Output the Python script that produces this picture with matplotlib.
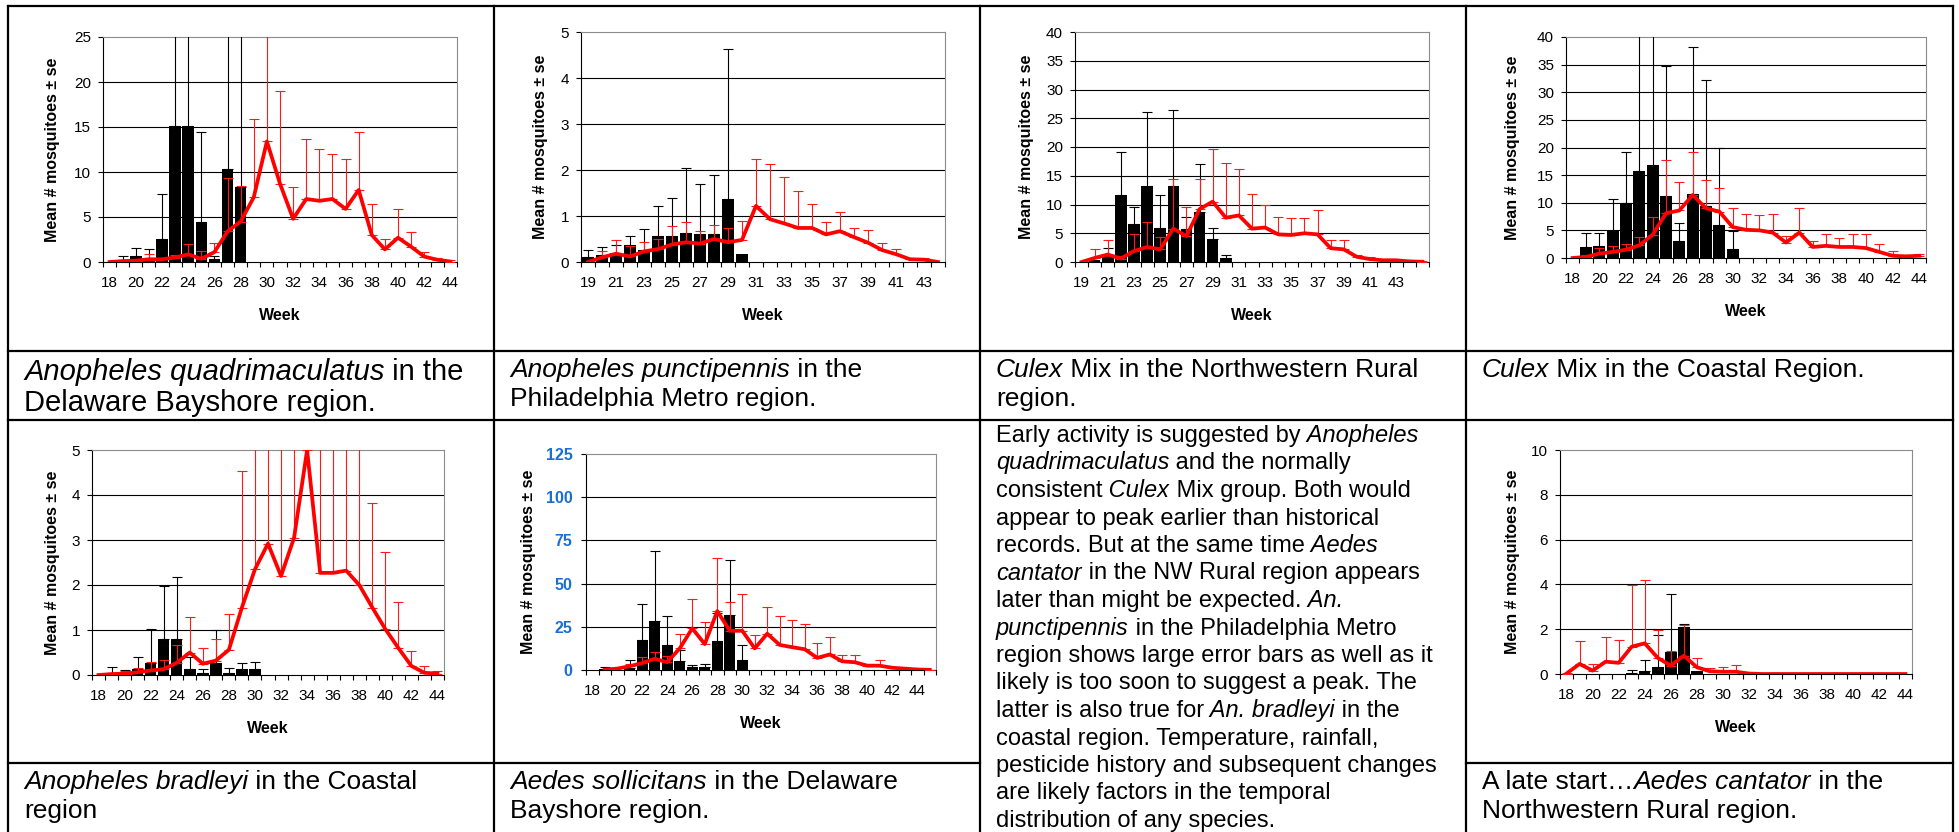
import matplotlib
matplotlib.use('Agg')
import matplotlib.pyplot as plt
import numpy as np
from matplotlib.lines import Line2D

plt.rcParams['font.family'] = ['Liberation Sans', 'DejaVu Sans']

# ---- data (mean and mean+se) ----
# Anopheles quadrimaculatus, Delaware Bayshore
q_weeks = list(range(18, 45))
q_labels = [18, 20, 22, 24, 26, 28, 30, 32, 34, 36, 38, 40, 42, 44]
q_bar = [0, 0.2, 0.7, 0.4, 2.6, 15.1, 15.1, 4.4, 0.3, 10.3, 8.3, 0, 0, 0, 0, 0, 0, 0, 0, 0, 0, 0, 0, 0, 0, 0, 0]
q_bar_hi = [0, 0.7, 1.6, 1.4, 7.6, 30, 30, 14.4, 0.7, 30, 30, 0, 0, 0, 0, 0, 0, 0, 0, 0, 0, 0, 0, 0, 0, 0, 0]
q_avg = [0, 0.1, 0.15, 0.3, 0.3, 0.5, 0.85, 0.35, 1.1, 3.4, 4.5, 7.2, 13.4, 8.7, 4.8, 7.0, 6.8, 7.0, 5.9, 8.0,
         3.0, 1.4, 2.7, 1.7, 0.6, 0.25, 0.05]
q_avg_hi = [0, 0.2, 0.25, 0.9, 0.4, 0.8, 1.95, 1.25, 2.1, 9.3, 8.4, 15.9, 30, 19.0, 8.35, 13.7, 12.6, 12.0, 11.5,
            14.4, 6.5, 2.6, 5.9, 3.35, 1.1, 0.5, 0.2]

# Anopheles punctipennis, Philadelphia Metro
p_weeks = list(range(19, 45))
p_labels = [19, 21, 23, 25, 27, 29, 31, 33, 35, 37, 39, 41, 43]
p_bar = [0.1, 0.15, 0.2, 0.36, 0.27, 0.56, 0.56, 0.62, 0.6, 0.6, 1.37, 0.17, 0, 0, 0, 0, 0, 0, 0, 0, 0, 0, 0, 0, 0, 0]
p_bar_hi = [0.27, 0.32, 0.36, 0.56, 0.71, 1.21, 1.4, 2.05, 1.69, 1.89, 4.62, 0.17, 0, 0, 0, 0, 0, 0, 0, 0, 0, 0, 0,
            0, 0, 0]
p_avg = [0, 0.1, 0.18, 0.12, 0.23, 0.28, 0.38, 0.43, 0.4, 0.5, 0.43, 0.48, 1.22, 0.93, 0.84, 0.74, 0.74, 0.6, 0.67,
         0.54, 0.42, 0.26, 0.17, 0.06, 0.05, 0.0]
p_avg_hi = [0, 0.25, 0.48, 0.35, 0.44, 0.5, 0.78, 0.87, 0.67, 0.8, 0.74, 0.9, 2.24, 2.14, 1.85, 1.54, 1.27, 0.87,
            1.08, 0.74, 0.7, 0.41, 0.29, 0.07, 0.08, 0]

# Culex Mix, Northwestern Rural
cn_weeks = list(range(19, 46))
cn_labels = [19, 21, 23, 25, 27, 29, 31, 33, 35, 37, 39, 41, 43]
cn_bar = [0, 0.3, 1.0, 11.6, 6.6, 13.3, 6.0, 13.3, 5.8, 8.7, 4.0, 0.7, 0, 0, 0, 0, 0, 0, 0, 0, 0, 0, 0, 0, 0, 0, 0]
cn_bar_hi = [0, 0.3, 2.35, 19.2, 9.6, 26.1, 11.7, 26.4, 7.8, 17.1, 6.0, 1.15, 0, 0, 0, 0, 0, 0, 0, 0, 0, 0, 0, 0, 0,
             0, 0]
cn_avg = [0, 0.7, 1.3, 0.6, 1.9, 2.6, 2.2, 5.8, 4.5, 9.2, 10.5, 7.7, 8.1, 5.8, 6.0, 4.8, 4.7, 5.0, 4.8, 2.4, 2.2,
          0.9, 0.5, 0.3, 0.3, 0.1, 0.05]
cn_avg_hi = [0, 2.2, 3.75, 1.1, 4.8, 6.9, 4.3, 14.45, 9.65, 14.45, 19.7, 17.2, 16.2, 11.8, 9.9, 7.75, 7.7, 7.6, 9.1,
             3.75, 3.75, 1.2, 0.8, 0.4, 0.4, 0.2, 0.1]

# Culex Mix, Coastal
cc_weeks = list(range(18, 45))
cc_labels = [18, 20, 22, 24, 26, 28, 30, 32, 34, 36, 38, 40, 42, 44]
cc_bar = [0, 2.0, 2.2, 4.8, 9.9, 15.8, 16.8, 11.2, 3.0, 11.6, 9.4, 6.0, 1.6, 0, 0, 0, 0, 0, 0, 0, 0, 0, 0, 0, 0, 0, 0]
cc_bar_hi = [0, 4.6, 4.6, 10.6, 19.1, 45, 45, 34.8, 6.4, 38.2, 32.2, 20.0, 4.9, 0, 0, 0, 0, 0, 0, 0, 0, 0, 0, 0, 0,
             0, 0]
cc_avg = [0, 0.2, 0.8, 1.1, 1.5, 2.3, 4.2, 8.1, 8.6, 11.4, 9.0, 8.4, 5.6, 5.1, 5.0, 4.6, 2.8, 4.6, 2.0, 2.2, 2.0, 2.0,
          1.8, 1.1, 0.4, 0.3, 0.4]
cc_avg_hi = [0, 0.5, 1.9, 2.2, 2.6, 3.8, 7.4, 17.7, 13.7, 19.2, 14.2, 12.6, 9.0, 7.9, 7.8, 7.9, 3.9, 9.0, 3.0, 4.4,
             3.6, 4.4, 4.4, 2.6, 1.2, 0.6, 0.8]

# Anopheles bradleyi, Coastal
b_weeks = list(range(18, 45))
b_labels = [18, 20, 22, 24, 26, 28, 30, 32, 34, 36, 38, 40, 42, 44]
b_bar = [0, 0.05, 0.05, 0.13, 0.27, 0.81, 0.79, 0.13, 0.05, 0.27, 0.05, 0.13, 0.13, 0, 0, 0, 0, 0, 0, 0, 0, 0, 0, 0,
         0, 0, 0]
b_bar_hi = [0, 0.17, 0.12, 0.39, 1.03, 1.98, 2.17, 0.39, 0.14, 0.99, 0.16, 0.27, 0.3, 0, 0, 0, 0, 0, 0, 0, 0, 0, 0, 0,
            0, 0, 0]
b_avg = [0, 0.02, 0.03, 0.06, 0.1, 0.13, 0.27, 0.5, 0.25, 0.32, 0.56, 1.5, 2.35, 2.92, 2.2, 3.05, 5.0, 2.27, 2.27,
         2.32, 2.0, 1.5, 1.02, 0.6, 0.2, 0.05, 0.03]
b_avg_hi = [0, 0.05, 0.1, 0.15, 0.28, 0.33, 0.66, 1.28, 0.59, 0.79, 1.36, 4.53, 6, 6, 6, 6, 6, 6, 6, 6, 6, 3.82,
            2.74, 1.63, 0.53, 0.2, 0.08]

# Aedes sollicitans, Delaware Bayshore
s_weeks = list(range(18, 46))
s_labels = [18, 20, 22, 24, 26, 28, 30, 32, 34, 36, 38, 40, 42, 44]
s_bar = [0, 0.5, 0, 1.0, 17.1, 28.5, 14.5, 5.2, 1.7, 2.0, 16.6, 31.6, 5.8, 0, 0, 0, 0, 0, 0, 0, 0, 0, 0, 0, 0, 0, 0, 0]
s_bar_hi = [0, 1.9, 0, 5.8, 38.3, 68.8, 31.4, 11.4, 3.0, 3.7, 32.8, 63.8, 14.45, 0, 0, 0, 0, 0, 0, 0, 0, 0, 0, 0, 0,
            0, 0, 0]
s_avg = [np.nan, 0.2, 0.8, 2.2, 4.0, 6.5, 4.5, 12.5, 24.1, 15.0, 34.1, 22.7, 22.7, 12.5, 21.0, 14.5, 13.2, 12.0, 7.0,
         9.0, 5.0, 4.5, 2.5, 2.5, 1.3, 0.8, 0.3, 0.1]
s_avg_hi = [np.nan, 0.2, 0.8, 3.5, 7.5, 10.5, 8.0, 20.6, 41.0, 27.7, 65.1, 39.5, 44.1, 20.0, 36.6, 31.4, 29.1, 26.6,
            15.8, 18.9, 8.9, 8.9, 3.5, 6.0, 2.0, 1.0, 0.5, 0.2]

# Aedes cantator, Northwestern Rural
c_weeks = list(range(18, 45))
c_labels = [18, 20, 22, 24, 26, 28, 30, 32, 34, 36, 38, 40, 42, 44]
c_bar = [0, 0, 0, 0, 0, 0.05, 0.15, 0.33, 0.97, 2.08, 0.15, 0, 0, 0, 0, 0, 0, 0, 0, 0, 0, 0, 0, 0, 0, 0, 0]
c_bar_hi = [0, 0, 0, 0, 0, 0.2, 0.61, 1.73, 3.59, 2.25, 0.15, 0, 0, 0, 0, 0, 0, 0, 0, 0, 0, 0, 0, 0, 0, 0, 0]
c_avg = [0.02, 0.45, 0.15, 0.55, 0.5, 1.22, 1.37, 0.72, 0.37, 0.82, 0.3, 0.12, 0.1, 0.1, 0.02, 0, 0, 0, 0, 0, 0, 0,
         0, 0, 0, 0, 0]
c_avg_hi = [0.05, 1.47, 0.45, 1.67, 1.52, 3.96, 4.2, 1.96, 1.02, 2.2, 0.7, 0.28, 0.33, 0.38, 0, 0, 0, 0, 0, 0, 0, 0,
            0, 0, 0, 0, 0]

# ---- captions and text ----
cap_q = [[("Anopheles quadrimaculatus", True), (" in the", False)], [("Delaware Bayshore region.", False)]]
cap_p = [[("Anopheles punctipennis", True), (" in the", False)], [("Philadelphia Metro region.", False)]]
cap_cn = [[("Culex", True), (" Mix in the Northwestern Rural", False)], [("region.", False)]]
cap_cc = [[("Culex", True), (" Mix in the Coastal Region.", False)]]
cap_b = [[("Anopheles bradleyi", True), (" in the Coastal", False)], [("region", False)]]
cap_s = [[("Aedes sollicitans", True), (" in the Delaware", False)], [("Bayshore region.", False)]]
cap_c = [[("A late start\u2026", False), ("Aedes cantator", True), (" in the", False)],
         [("Northwestern Rural region.", False)]]
body = [
    [("Early activity is suggested by", False), (" Anopheles", True)],
    [("quadrimaculatus", True), (" and the normally", False)],
    [("consistent", False), (" Culex", True), (" Mix group. Both would", False)],
    [("appear to peak earlier than historical", False)],
    [("records. But at the same time", False), (" Aedes", True)],
    [("cantator", True), (" in the NW Rural region appears", False)],
    [("later than might be expected.", False), (" An.", True)],
    [("punctipennis", True), (" in the Philadelphia Metro", False)],
    [("region shows large error bars as well as it", False)],
    [("likely is too soon to suggest a peak. The", False)],
    [("latter is also true for", False), (" An. bradleyi", True), (" in the", False)],
    [("coastal region. Temperature, rainfall,", False)],
    [("pesticide history and subsequent changes", False)],
    [("are likely factors in the temporal", False)],
    [("distribution of any species.", False)],
]

W, H = 1959, 832
fig = plt.figure(figsize=(W / 100, H / 100), dpi=100)
renderer = fig.canvas.get_renderer()


def add_ax(l, r, t, b):
    return fig.add_axes([l / W, 1 - b / H, (r - l) / W, (b - t) / H])


def chart(box, weeks, labels, bar, bar_hi, avg, avg_hi, ymax, ystep, ylab_dx, blue=False):
    l, r, t, b = box
    ax = add_ax(l, r, t, b)
    n = len(weeks)
    x = np.arange(n)
    bar = np.array(bar, float)
    bar_hi = np.array(bar_hi, float)
    avg = np.array(avg, float)
    avg_hi = np.array(avg_hi, float)

    ax.bar(x, bar, width=0.88, color='black', zorder=3)
    se = bar_hi - bar
    m = se > 0
    ax.errorbar(x[m], bar[m], yerr=[np.zeros(m.sum()), se[m]], fmt='none', ecolor='black',
                elinewidth=0.8, capsize=3.5, capthick=0.8, zorder=4)
    se2 = avg_hi - avg
    m2 = np.nan_to_num(se2) > 0
    ax.errorbar(x[m2], avg[m2], yerr=[np.zeros(m2.sum()), se2[m2]], fmt='none', ecolor='#ff1a1a',
                elinewidth=0.8, capsize=3.5, capthick=0.8, zorder=5)
    ax.plot(x, avg, color='#ff0000', lw=2.7, zorder=6)

    ax.set_xlim(-0.5, n - 0.5)
    ax.set_ylim(0, ymax)
    yt = np.arange(0, ymax + ystep / 2, ystep)
    for v in yt[1:-1]:
        ax.axhline(v, color='black', lw=0.8, zorder=1)
    ax.set_yticks(yt)
    ax.tick_params(axis='y', length=3.6, width=0.8, pad=5 if not blue else 6,
                   labelsize=11 if not blue else 11.5)
    if blue:
        for tl in ax.get_yticklabels():
            tl.set_color('#1a6fd4')
            tl.set_fontweight('bold')

    ax.set_xticks(np.arange(-0.5, n))
    ax.tick_params(axis='x', which='major', length=3.6, width=0.8, labelbottom=False)
    pos = [weeks.index(w) for w in labels]
    ax.set_xticks(pos, [str(w) for w in labels], minor=True)
    ax.tick_params(axis='x', which='minor', length=0, pad=10, labelsize=11)

    for s in ['left', 'bottom']:
        ax.spines[s].set_color('black')
        ax.spines[s].set_linewidth(0.8)
    for s in ['top', 'right']:
        ax.spines[s].set_color('#8c8c8c')
        ax.spines[s].set_linewidth(0.8)

    wpx, hpx = r - l, b - t
    ax.text(ylab_dx / wpx, 0.5, 'Mean # mosquitoes \u00b1 se', transform=ax.transAxes, rotation=90,
            ha='center', va='center', fontsize=11.5, fontweight='bold')
    ax.text(0.5, -54 / hpx, 'Week', transform=ax.transAxes, ha='center', va='center',
            fontsize=11.5, fontweight='bold')
    return ax


chart((103, 457, 37, 262), q_weeks, q_labels, q_bar, q_bar_hi, q_avg, q_avg_hi, 25, 5, -50)
chart((581, 945, 32, 262), p_weeks, p_labels, p_bar, p_bar_hi, p_avg, p_avg_hi, 5, 1, -41)
chart((1075, 1429, 32, 262), cn_weeks, cn_labels, cn_bar, cn_bar_hi, cn_avg, cn_avg_hi, 40, 5, -48)
chart((1566, 1926, 37, 258), cc_weeks, cc_labels, cc_bar, cc_bar_hi, cc_avg, cc_avg_hi, 40, 5, -53)
chart((92, 444, 450, 675), b_weeks, b_labels, b_bar, b_bar_hi, b_avg, b_avg_hi, 5, 1, -39)
chart((586, 936, 454, 670), s_weeks, s_labels, s_bar, s_bar_hi, s_avg, s_avg_hi, 125, 25, -57, blue=True)
chart((1560, 1912, 450, 674), c_weeks, c_labels, c_bar, c_bar_hi, c_avg, c_avg_hi, 10, 2, -48)


def rich_lines(x0, baselines, lines, size):
    for y, parts in zip(baselines, lines):
        x = x0
        for s, it in parts:
            t = fig.text(x / W, 1 - y / H, s, fontsize=size, style='italic' if it else 'normal',
                         ha='left', va='baseline')
            bb = t.get_window_extent(renderer=renderer)
            x = bb.x1


rich_lines(24, [380, 411], cap_q, 21)
rich_lines(510, [377, 406], cap_p, 19)
rich_lines(996, [377, 406], cap_cn, 19)
rich_lines(1482, [377, 406], cap_cc, 19)
rich_lines(24, [789, 818], cap_b, 19)
rich_lines(510, [789, 818], cap_s, 19)
rich_lines(1482, [789, 818], cap_c, 19)
rich_lines(996, [442 + 27.5 * i for i in range(len(body))], body, 17)

# table rules
def hline(y, x0, x1):
    fig.add_artist(Line2D([x0 / W, x1 / W], [1 - y / H, 1 - y / H], color='black', lw=1.6))


def vline(x, y0, y1):
    fig.add_artist(Line2D([x / W, x / W], [1 - y0 / H, 1 - y1 / H], color='black', lw=1.6))


hline(6, 8, 1953)
hline(351, 8, 1953)
hline(420, 8, 1953)
hline(763, 8, 980)
hline(763, 1466, 1953)
for xv in [8, 494, 980, 1466, 1953]:
    vline(xv, 6, 832)

fig.savefig('out.png', dpi=100)
